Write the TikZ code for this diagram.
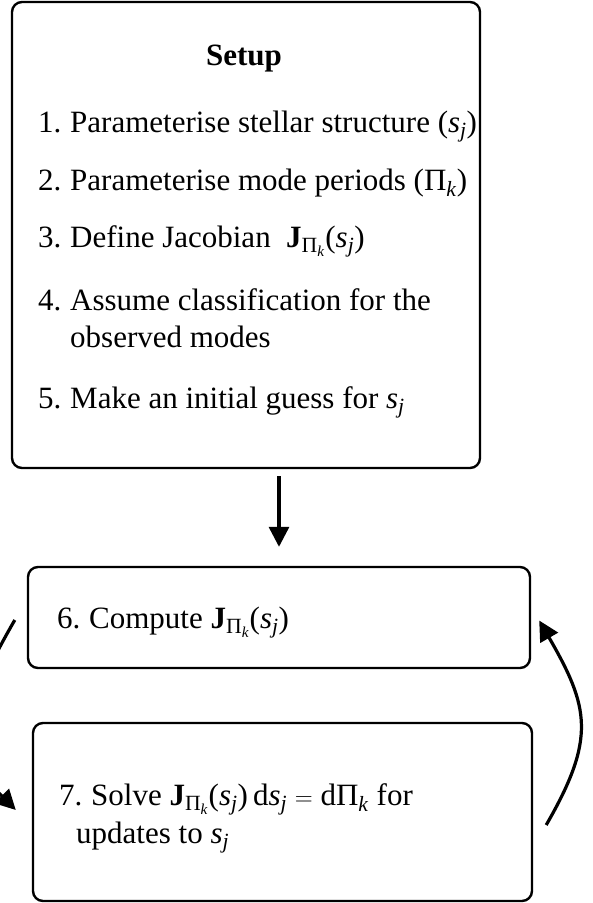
\documentclass[tikz,border=0pt]{standalone}
\usepackage{fontspec}
\setmainfont{Liberation Serif}
\usepackage{tikz}
\usetikzlibrary{positioning,calc,arrows.meta}

% symbols set in the text font
\newcommand{\sj}{\textit{s}\textsubscript{\textit{j}}}
\newcommand{\Pik}{Π\textsubscript{\textit{k}}}
\newcommand{\Jac}{\textbf{J}\textsubscript{\Pik}}
\newcommand{\stepno}[1]{\makebox[32pt][l]{#1}}

\tikzset{
    stepbox/.style={draw, rounded corners=10pt, line width=2.4pt, inner sep=0pt},
    itemtext/.style={anchor=base west, inner sep=0pt, font=\fontsize{31}{37}\selectfont},
    flowarrow/.style={line width=3.2pt, -{Triangle[length=20pt,width=20pt]}}
}

\begin{document}
\begin{tikzpicture}[x=1pt, y=1pt]
    \useasboundingbox (0,0) rectangle (593,-903);

    % Setup box
    \node[stepbox, minimum width=468pt, minimum height=466pt] (setup) at (246,-235) {};
    \node[anchor=base, inner sep=0pt, font=\fontsize{31}{37}\selectfont\bfseries] (title) at (244,-65) {Setup};
    \node[itemtext] (item1) at (38,-132) {\stepno{1.}Parameterise stellar structure (\sj)};
    \node[itemtext] (item2) at (38,-190) {\stepno{2.}Parameterise mode periods (\Pik)};
    \node[itemtext] (item3) at (38,-247) {\stepno{3.}Define Jacobian \ \Jac(\sj)};
    \node[itemtext] (item4) at (38,-310) {\stepno{4.}Assume classification for the};
    \node[itemtext] (item4b) at (70,-347) {observed modes};
    \node[itemtext] (item5) at (38,-408) {\stepno{5.}Make an initial guess for \sj};

    % Iteration boxes
    \node[stepbox, minimum width=502pt, minimum height=101pt] (compute) at (279,-617.5) {};
    \node[itemtext] (item6) at (57,-628) {\stepno{6.}Compute \Jac(\sj)};

    \node[stepbox, minimum width=499pt, minimum height=178pt] (solve) at (282.5,-812) {};
    \node[itemtext] (item7) at (59,-805) {\stepno{7.}Solve \Jac(\sj)\,d\sj{} $=$ dΠ\textsubscript{\textit{k}} for};
    \node[itemtext] (item7b) at (76,-843) {updates to \sj};

    % Arrows
    \draw[flowarrow, shorten <=7pt, shorten >=19pt] (setup.south -| compute.north) -- (compute.north);
    \draw[flowarrow] ([xshift=-12pt,yshift=-2.5pt]compute.west) to[out=-120, in=135, looseness=1.2] ([xshift=-16pt,yshift=2pt]solve.west);
    \draw[flowarrow] ([xshift=13pt,yshift=-13pt]solve.east) to[out=60, in=-60, looseness=1.25] ([xshift=8pt,yshift=-3pt]compute.east);
\end{tikzpicture}
\end{document}
